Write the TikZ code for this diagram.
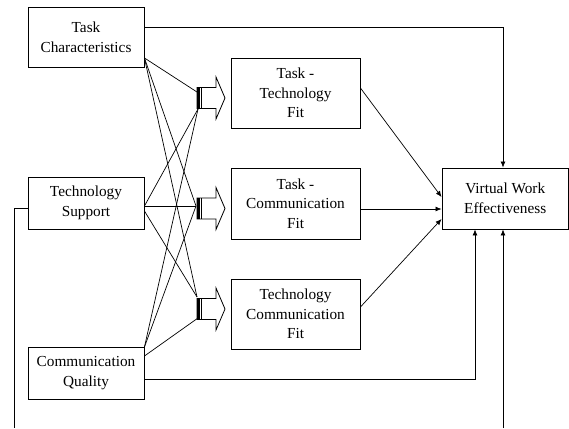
\documentclass[tikz,border=0pt]{standalone}
\usepackage{fontspec}
\setmainfont{Liberation Serif}
\usetikzlibrary{arrows.meta}
\begin{document}
\begin{tikzpicture}[x=1pt,y=-1pt,
  box/.style={draw, line width=0.9pt, inner sep=0pt, align=center, font=\fontsize{15.3}{19.6}\selectfont},
  conn/.style={line width=0.7pt},
  arr/.style={line width=0.7pt, -{Latex[length=6pt,width=5pt]}},
  fitarr/.pic={
    \filldraw[fill=white, line width=0.8pt] (0,-10.5) -- (19,-10.5) -- (19,-21) -- (28,0) -- (19,21) -- (19,10.5) -- (0,10.5) -- cycle;
    \fill (0,-10.5) rectangle (2.8,10.5);
    \draw[line width=0.8pt] (4.2,-10.5) -- (4.2,10.5);
  }]
\useasboundingbox (0,0) rectangle (569,428);

% source boxes
\node[box, minimum width=116pt, minimum height=60pt] (tc) at (86,37) {Task\\Characteristics};
\node[box, minimum width=116pt, minimum height=52pt] (ts) at (86,203) {Technology\\Support};
\node[box, minimum width=116pt, minimum height=52pt] (cq) at (86,373) {Communication\\Quality};

% fit boxes
\node[box, minimum width=129pt, minimum height=70pt] (ttf) at (295.5,93) {Task -\\Technology\\Fit};
\node[box, minimum width=129pt, minimum height=71pt] (tcf) at (295.5,203.5) {Task -\\Communication\\Fit};
\node[box, minimum width=129pt, minimum height=70pt] (tecf) at (295.5,314) {Technology\\Communication\\Fit};

% outcome
\node[box, minimum width=126.5pt, minimum height=61pt] (vwe) at (505.25,198.5) {Virtual Work\\Effectiveness};

% convergence points at the block arrows
\coordinate (a1t) at (197,92);
\coordinate (a1b) at (198,109);
\coordinate (a2) at (196,206);
\coordinate (a3t) at (197,297);
\coordinate (a3b) at (198,318);

% crossing lines
\draw[conn] ([yshift=-21pt]tc.east) -- (a1t);
\draw[conn] ([yshift=-21pt]tc.east) -- (a2);
\draw[conn] ([yshift=-21pt]tc.east) -- (a3t);
\draw[conn] ([yshift=-3pt]ts.east) -- (a1b);
\draw[conn] ([yshift=-3pt]ts.east) -- (a2);
\draw[conn] ([yshift=-8pt]ts.east) -- (a3t);
\draw[conn] ([yshift=26pt]cq.east) -- (a1b);
\draw[conn] ([yshift=26pt]cq.east) -- (a2);
\draw[conn] ([yshift=17pt]cq.east) -- (a3b);

% block arrows
\pic at (197,98) {fitarr};
\pic at (197,208.5) {fitarr};
\pic at (197,309) {fitarr};

% fit -> outcome
\draw[arr] ([yshift=5pt]ttf.east) -- ([yshift=1.5pt]vwe.west);
\draw[arr] ([yshift=-5.5pt]tcf.east) -- ([yshift=-10.5pt]vwe.west);
\draw[arr] ([yshift=7pt]tecf.east) -- ([yshift=-20.5pt]vwe.west);

% direct paths
\coordinate (fbR) at (503,428);
\coordinate (fbL) at (14,428);
\draw[arr] ([yshift=10pt]tc.east) -| (vwe.north -| fbR);
\draw[arr] ([yshift=-6pt]cq.east) -| ([xshift=-30.25pt]vwe.south);
\draw[arr] (fbR) -- (vwe.south -| fbR);
\draw[conn] ([yshift=-5pt]ts.west) -| (fbL);
\end{tikzpicture}
\end{document}
